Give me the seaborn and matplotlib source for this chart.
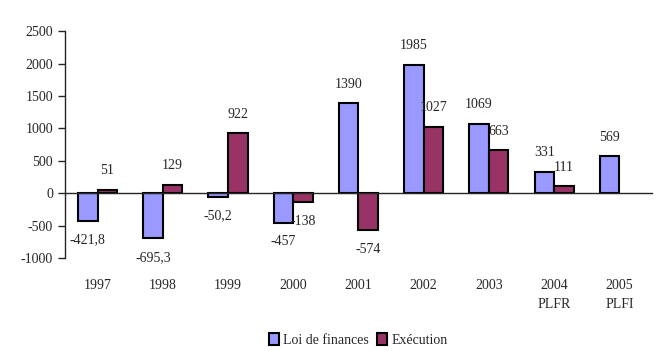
import numpy as np
import pandas as pd
import seaborn as sns
import matplotlib.pyplot as plt

years = ['1997', '1998', '1999', '2000', '2001', '2002', '2003', '2004\nPLFR', '2005\nPLFI']
loi_finances = [-421.8, -695.3, -50.2, -457, 1390, 1985, 1069, 331, 569]
execution = [51, 129, 922, -138, -574, 1027, 663, 111, np.nan]
series = ['Loi de finances', 'Exécution']
colors = ['#9999FF', '#993366']

df = pd.DataFrame({
    'Année': years * 2,
    'Série': [series[0]] * len(years) + [series[1]] * len(years),
    'Valeur': loi_finances + execution,
})

sns.set_style('white')
plt.rcParams['font.family'] = ['Liberation Serif', 'DejaVu Serif']
plt.rcParams['font.size'] = 10
plt.rcParams['axes.unicode_minus'] = False

fig = plt.figure(figsize=(6.7, 3.62), dpi=100)
ax = fig.add_axes([0.097, 0.287, 0.876, 0.627])

sns.barplot(data=df, x='Année', y='Valeur', hue='Série', order=years,
            hue_order=series, palette=colors, saturation=1, width=0.6,
            edgecolor='black', linewidth=1.5, ax=ax, legend=True)


def fmt(v):
    s = f'{v:.1f}' if v != int(v) else f'{int(v)}'
    return s.replace('.', ',')


for cont, vals in zip(ax.containers, [loi_finances, execution]):
    labels = [fmt(v) for v in vals if not np.isnan(v)]
    ax.bar_label(cont, labels=labels, padding=9, fontsize=10)

ax.set_ylim(-1000, 2500)
ax.set_xlim(-0.5, len(years) - 0.5)
ax.set_yticks(range(-1000, 2501, 500))
ax.set_xlabel('')
ax.set_ylabel('')

for s in ['top', 'right']:
    ax.spines[s].set_visible(False)
ax.spines['left'].set_linewidth(1)
ax.spines['bottom'].set_position(('data', 0))
ax.spines['bottom'].set_linewidth(1)

ax.set_xticks(np.arange(len(years) + 1) - 0.5, minor=True)
ax.tick_params(axis='x', which='minor', length=5, width=1, direction='out')
ax.tick_params(axis='x', which='major', length=0, pad=62)
ax.tick_params(axis='y', length=5, width=1, direction='out', left=True)
for t in ax.get_xticklabels():
    t.set_linespacing(1.6)
    t.set_verticalalignment('top')

leg = ax.legend(loc='center', bbox_to_anchor=(0.5, -0.36), ncol=2,
                frameon=False, handlelength=0.7, handleheight=0.9,
                handletextpad=0.3, columnspacing=0.6, fontsize=10)
for h in leg.legend_handles:
    h.set_edgecolor('black')
    h.set_linewidth(1.5)

fig.savefig('out.png', dpi=100)
